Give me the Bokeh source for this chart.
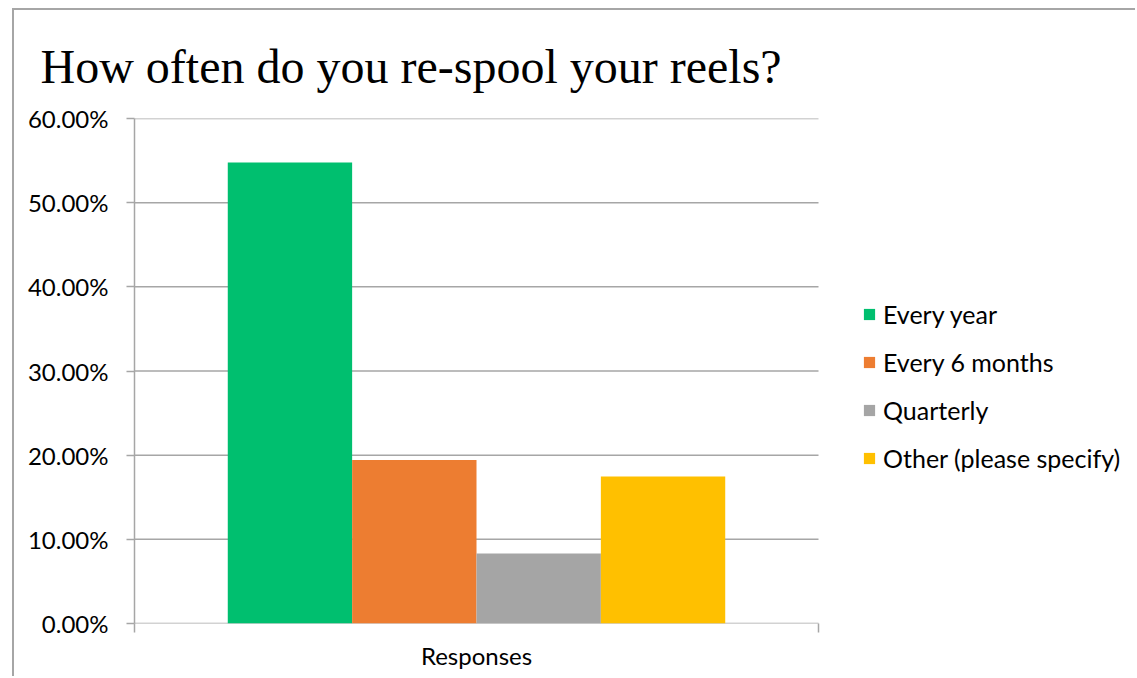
from bokeh.plotting import figure
from bokeh.models import (ColumnDataSource, Range1d, FixedTicker, NumeralTickFormatter,
                          Legend, LegendItem)
from bokeh.embed import file_html
from bokeh.resources import INLINE

# ---- data ----
series = ["Every year", "Every 6 months", "Quarterly", "Other (please specify)"]
values = [0.5476, 0.1944, 0.0833, 0.1746]
colors = ["#00BF6F", "#ED7D31", "#A5A5A5", "#FFC000"]
category = "Responses"
y_ticks = [0.0, 0.1, 0.2, 0.3, 0.4, 0.5, 0.6]

# layout of clustered bars (Excel style: gap width 150%)
gap = 1.5
n = len(series)
bw = 1.0 / (n + gap)
xs = [0.5 + (i - (n - 1) / 2) * bw for i in range(n)]

src = ColumnDataSource(dict(x=xs, top=values, color=colors, label=series))

GRID = "#A6A6A6"
LABEL_FONT = "Lato"

W, H = 1123, 668
LEFT, TOP, BOTTOM = 120, 108, 55
PLOT_W = 684                       # width of the category area in px
FRAME_W = W - LEFT                 # frame extends to the right edge (legend lives there)

p = figure(width=W, height=H, output_backend="svg", toolbar_location=None,
           x_range=Range1d(0, FRAME_W / PLOT_W), y_range=Range1d(0, 0.6),
           min_border_left=LEFT, min_border_right=0, min_border_top=TOP,
           min_border_bottom=BOTTOM)
p.outline_line_color = None
p.background_fill_color = "white"
p.border_fill_color = "white"
p.styles = {"border-left": "2px solid #A6A6A6", "border-top": "2px solid #A6A6A6",
            "margin-left": "12px", "margin-top": "8px"}

# horizontal gridlines across the category area only
p.segment(x0=[0] * len(y_ticks), x1=[1] * len(y_ticks), y0=y_ticks, y1=y_ticks,
          line_color=GRID, line_width=1.5)

r = p.vbar(x="x", top="top", width=bw, color="color", source=src, line_color=None)

# title
p.title.text = "How often do you re-spool your reels?"
p.title.text_font = "Liberation Serif"
p.title.text_font_size = "48px"
p.title.text_font_style = "normal"
p.title.text_color = "black"
p.title.align = "left"
p.title.offset = -94
p.title.standoff = 52

# y axis
ya = p.yaxis[0]
ya.ticker = FixedTicker(ticks=y_ticks)
ya.formatter = NumeralTickFormatter(format="0.00%")
ya.axis_line_color = GRID
ya.axis_line_width = 1.5
ya.major_tick_line_color = GRID
ya.major_tick_line_width = 1.5
ya.major_tick_out = 8
ya.major_tick_in = 0
ya.minor_tick_line_color = None
ya.major_label_text_font = LABEL_FONT
ya.major_label_text_font_size = "24px"
ya.major_label_text_color = "black"
ya.major_label_standoff = 18

# x axis: category label at the centre, tick marks at the category boundaries
xa = p.xaxis[0]
xa.ticker = FixedTicker(ticks=[0.5], minor_ticks=[0.0, 1.0])
xa.major_label_overrides = {0.5: category}
xa.major_label_text_font = LABEL_FONT
xa.major_label_text_font_size = "24px"
xa.major_label_text_color = "black"
xa.major_label_standoff = 8
xa.axis_line_color = None
xa.major_tick_line_color = None
xa.major_tick_out = 9
xa.major_tick_in = 0
xa.minor_tick_line_color = GRID
xa.minor_tick_line_width = 1.5
xa.minor_tick_out = 9
xa.minor_tick_in = 0

p.xgrid.grid_line_color = None
p.ygrid.grid_line_color = None

# legend (to the right of the category area)
items = [LegendItem(label=s, renderers=[r], index=i) for i, s in enumerate(series)]
leg = Legend(items=items, location=(PLOT_W + 44, 150), orientation="vertical")
leg.border_line_color = None
leg.background_fill_alpha = 0
leg.glyph_width = 14
leg.glyph_height = 14
leg.label_standoff = 7
leg.label_text_font = LABEL_FONT
leg.label_text_font_size = "25px"
leg.label_text_color = "black"
leg.spacing = 18
leg.padding = 0
leg.margin = 0
p.add_layout(leg, "center")

open("out.html", "w").write(file_html(p, INLINE))
